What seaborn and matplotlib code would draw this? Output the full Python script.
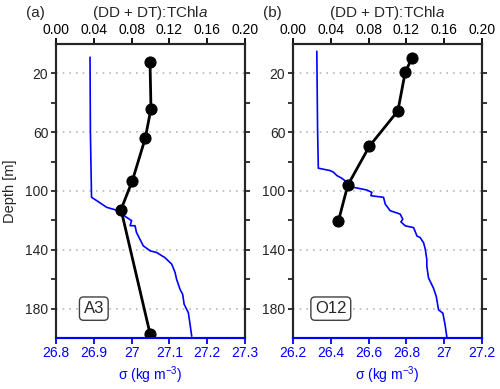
import matplotlib
matplotlib.use("Agg")
import matplotlib.pyplot as plt
import seaborn as sns
import pandas as pd

# pigment ratio profiles (black, top axis)
a3_depth = [12.5, 44, 64, 93, 112.6, 197]
a3_ratio = [0.0995, 0.1005, 0.0945, 0.0808, 0.0688, 0.0995]
o12_depth = [9.7, 19.3, 45.5, 69.5, 96, 120.6]
o12_ratio = [0.1258, 0.1187, 0.111, 0.0809, 0.058, 0.048]

# density profiles (blue, bottom axis)
a3_sig_depth = [9, 60, 104.3, 106.6, 111.1, 113.4, 115.7, 120.2, 123.6, 123.6, 128.2, 132.8,
                137.3, 140.7, 141.8, 145.3, 149.7, 155.4, 160, 166.8, 170.2, 177, 182.7, 189.5, 198.7]
a3_sigma = [26.890, 26.891, 26.894, 26.908, 26.934, 26.965, 26.974, 27.000, 26.996, 27.009, 27.013,
            27.022, 27.031, 27.049, 27.066, 27.088, 27.106, 27.115, 27.119, 27.128, 27.135, 27.139,
            27.150, 27.154, 27.159]
o12_sig_depth = [5, 57.6, 84.5, 86.1, 87.2, 89.5, 91.3, 97.5, 99.3, 100.9, 103.2, 104.3, 108.9, 113.4,
                 115.7, 119.2, 121, 123.7, 124.9, 130.6, 131.7, 135.2, 139.7, 146.6, 151.1, 159.1,
                 166, 171.7, 180.8, 183.1, 191.3, 199.3]
o12_sigma = [26.326, 26.330, 26.334, 26.396, 26.414, 26.432, 26.458, 26.520, 26.590, 26.617, 26.612,
             26.679, 26.688, 26.714, 26.767, 26.781, 26.771, 26.794, 26.838, 26.856, 26.873, 26.891,
             26.900, 26.908, 26.908, 26.917, 26.943, 26.958, 26.970, 26.993, 27.005, 27.014]

panels = [
    dict(tag="(a)", station="A3", depth=a3_depth, ratio=a3_ratio, sdepth=a3_sig_depth,
         sigma=a3_sigma, slim=(26.8, 27.3), sticks=[26.8, 26.9, 27.0, 27.1, 27.2, 27.3],
         slabels=["26.8", "26.9", "27", "27.1", "27.2", "27.3"]),
    dict(tag="(b)", station="O12", depth=o12_depth, ratio=o12_ratio, sdepth=o12_sig_depth,
         sigma=o12_sigma, slim=(26.2, 27.2), sticks=[26.2, 26.4, 26.6, 26.8, 27.0, 27.2],
         slabels=["26.2", "26.4", "26.6", "26.8", "27", "27.2"]),
]
ratio_ticks = [0.0, 0.04, 0.08, 0.12, 0.16, 0.20]

sns.set_style("ticks")
plt.rcParams["font.family"] = ["Liberation Sans", "DejaVu Sans"]
plt.rcParams["mathtext.fontset"] = "custom"
plt.rcParams["mathtext.rm"] = "Liberation Sans"
plt.rcParams["mathtext.it"] = "Liberation Sans:italic"

fig = plt.figure(figsize=(5, 3.89), dpi=100)
lefts = [0.112, 0.586]

for p, left in zip(panels, lefts):
    ax = fig.add_axes([left, 0.131, 0.378, 0.756])
    sig_df = pd.DataFrame({"sigma": p["sigma"], "depth": p["sdepth"]})
    sns.lineplot(data=sig_df, x="sigma", y="depth", sort=False, estimator=None,
                 color="blue", lw=1.2, ax=ax)
    ax.set_xlim(*p["slim"])
    ax.set_ylim(200, 0)
    ax.set_xticks(p["sticks"])
    ax.set_xticklabels(p["slabels"])
    ax.set_yticks([20, 60, 100, 140, 180])
    ax.set_yticks([40, 80, 120, 160], minor=True)
    ax.yaxis.grid(True, which="major", linestyle=(0, (1, 3)), color="0.72", lw=1.2)
    ax.tick_params(axis="y", which="both", left=True, right=True, direction="out",
                   length=3.5, width=1.3, labelsize=10, pad=2)
    ax.tick_params(axis="x", colors="blue", direction="out", length=4, width=1.3,
                   labelsize=10, pad=2)
    ax.set_xlabel("σ (kg m$^{-3}$)", color="blue", fontsize=10, labelpad=3)
    ax.set_ylabel("Depth [m]" if p["tag"] == "(a)" else "", fontsize=10.5, labelpad=6)
    for s in ax.spines.values():
        s.set_linewidth(1.5)
        s.set_visible(True)
    ax.spines["bottom"].set_color("blue")

    ax2 = ax.twiny()
    rat_df = pd.DataFrame({"ratio": p["ratio"], "depth": p["depth"]})
    sns.lineplot(data=rat_df, x="ratio", y="depth", sort=False, estimator=None,
                 color="black", lw=2, marker="o", markersize=8, markeredgecolor="black", ax=ax2)
    ax2.set_xlim(0, 0.2)
    ax2.set_ylim(200, 0)
    ax2.set_xticks(ratio_ticks)
    ax2.set_xticklabels([f"{t:.2f}" for t in ratio_ticks])
    ax2.tick_params(axis="x", top=True, direction="out", length=4, width=1.3,
                    labelsize=10, pad=1, color="black", labelcolor="black")
    ax2.set_xlabel("")
    ax2.set_ylabel("")
    for s in ax2.spines.values():
        s.set_linewidth(1.5)
    ax2.spines["bottom"].set_color("blue")

    ax.text(0.2, 0.1, p["station"], transform=ax.transAxes, ha="center", va="center",
            fontsize=12, bbox=dict(boxstyle="round,pad=0.25", fc="white", ec="0.25", lw=1))
    fig.text(left - 0.042, 0.967, p["tag"], ha="center", va="center", fontsize=11)
    fig.text(left + 0.189, 0.967, "(DD + DT):TChl$\\it{a}$", ha="center", va="center", fontsize=11)

fig.savefig("out.png", dpi=100)
